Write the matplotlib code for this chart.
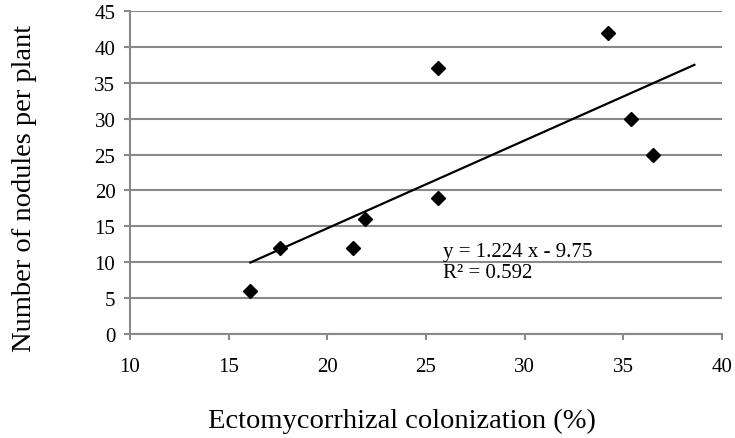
import numpy as np
import matplotlib
matplotlib.use("Agg")
import matplotlib.pyplot as plt

# colonization (%) vs nodules per plant
colonization = [16.1, 17.6, 21.3, 21.9, 25.6, 25.6, 34.2, 35.4, 36.5]
nodules = [6, 12, 12, 16, 19, 37, 42, 30, 25]

# trend line as printed on the chart
slope = 1.224
intercept = -9.75
r_squared = 0.592

x_ticks = [10, 15, 20, 25, 30, 35, 40]
y_ticks = [0, 5, 10, 15, 20, 25, 30, 35, 40, 45]

plt.rcParams['font.family'] = ['Liberation Serif', 'DejaVu Serif']

fig = plt.figure(figsize=(7.35, 4.39), dpi=100)
ax = fig.add_axes([130/735, 1 - 335/439, 592/735, 323/439])

grey = '#898989'
for y in y_ticks:
    ax.axhline(y, color=grey, lw=1.5, zorder=1)

xs = np.array([min(colonization), 38.6])
ax.plot(xs, slope*xs + intercept, color='black', lw=1.6, zorder=2)
ax.plot(colonization, nodules, linestyle='none', marker='D', ms=7,
        color='black', zorder=3)

ax.text(25.85, 11.5, 'y = %.3f x - %.2f' % (slope, -intercept), fontsize=15, va='center')
ax.text(25.85, 8.5, 'R² = %.3f' % r_squared, fontsize=15, va='center')

ax.set_xlim(10, 40)
ax.set_ylim(0, 45)
ax.set_xticks(x_ticks)
ax.set_yticks(y_ticks)
for s in ['top', 'right']:
    ax.spines[s].set_visible(False)
for s in ['left', 'bottom']:
    ax.spines[s].set_color(grey)
    ax.spines[s].set_linewidth(1.5)
ax.tick_params(direction='out', length=4.5, width=1.5, color=grey,
               labelsize=15)
ax.tick_params(axis='x', pad=12)
ax.tick_params(axis='y', pad=6)

fig.text(402/735, 1 - 421/439, 'Ectomycorrhizal colonization (%)',
         fontsize=20.5, ha='center', va='center')
fig.text(25/735, 1 - 188/439, 'Number of nodules per plant',
         fontsize=20.5, ha='center', va='center', rotation=90)

fig.savefig('out.png', dpi=100)
